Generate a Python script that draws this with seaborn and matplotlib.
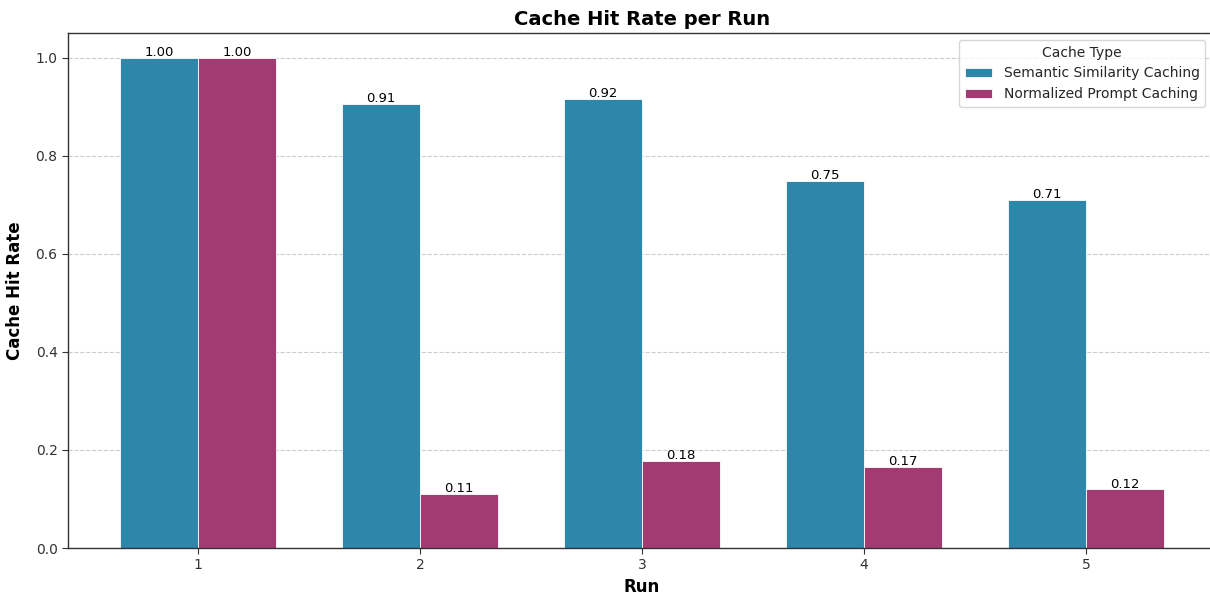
import pandas as pd
import numpy as np
import matplotlib
matplotlib.use("Agg")
import matplotlib.pyplot as plt
import seaborn as sns

# data
runs = ["1", "2", "3", "4", "5"]
semantic = [1.00, 0.906, 0.916, 0.749, 0.710]
normalized = [1.00, 0.110, 0.178, 0.165, 0.120]
series_names = ["Semantic Similarity Caching", "Normalized Prompt Caching"]
colors = ["#2E86AB", "#A23B72"]

df = pd.DataFrame({
    "Run": runs * 2,
    "Cache Hit Rate": semantic + normalized,
    "Cache Type": [series_names[0]] * len(runs) + [series_names[1]] * len(runs),
})

sns.set_style("white")
plt.rcParams["font.family"] = ["DejaVu Sans"]

fig = plt.figure(figsize=(12.1, 5.96), dpi=100)
# axes runs slightly past the right edge, as in the cropped reference
ax = fig.add_axes([68 / 1210, 1 - 548 / 596, (1216 - 68) / 1210, (548 - 33) / 596])

sns.barplot(data=df, x="Run", y="Cache Hit Rate", hue="Cache Type",
            palette=colors, width=0.7, edgecolor="white", linewidth=0.6,
            ax=ax, errorbar=None, saturation=1)

for c in ax.containers:
    ax.bar_label(c, fmt="%.2f", fontsize=9.5, padding=-1, color="black")

ax.set_xlim(-0.585, 4.585)
ax.set_ylim(0, 1.05)
ax.set_yticks([0, 0.2, 0.4, 0.6, 0.8, 1.0])
ax.yaxis.grid(True, linestyle="--", color="#cccccc", linewidth=0.8)
ax.set_axisbelow(True)

ax.set_title("Cache Hit Rate per Run", fontsize=14, fontweight="bold", pad=6, color="black")
ax.set_xlabel("Run", fontsize=12, fontweight="bold", labelpad=4, color="black")
ax.set_ylabel("Cache Hit Rate", fontsize=12, fontweight="bold", labelpad=8, color="black")
ax.tick_params(axis="both", labelsize=10, labelcolor="#333333", length=4,
               color="#333333", bottom=True, left=True)
for s in ax.spines.values():
    s.set_color("#333333")
    s.set_linewidth(1.0)

leg = ax.legend(title="Cache Type", fontsize=10, title_fontsize=10,
                loc="upper right", bbox_to_anchor=(1212 / 1210, 1 - 33 / 596),
                bbox_transform=fig.transFigure, frameon=True)
leg.get_frame().set_edgecolor("#cccccc")

fig.savefig("out.png", dpi=100)
